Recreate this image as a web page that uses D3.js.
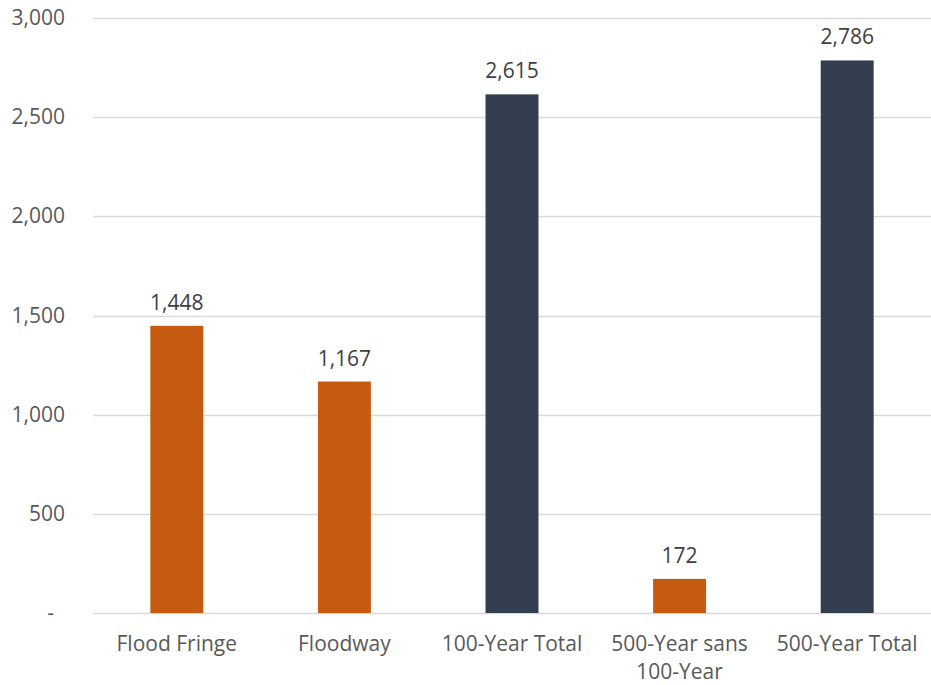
<!DOCTYPE html>
<html>
<head>
<meta charset="utf-8">
<script src="https://cdn.jsdelivr.net/npm/d3@7"></script>
<style>
  body { margin: 0; background: #fff; }
  text { font-family: "Open Sans", sans-serif; }
</style>
</head>
<body>
<div id="chart"></div>
<script>
const categories = ["Flood Fringe", "Floodway", "100-Year Total", "500-Year sans 100-Year", "500-Year Total"];
const values = [1448, 1167, 2615, 172, 2786];
const barColors = ["#C55A11", "#C55A11", "#333F50", "#C55A11", "#333F50"];
const yTicks = [0, 500, 1000, 1500, 2000, 2500, 3000];

const width = 931, height = 685;
const margin = {top: 18, right: 0, bottom: 72, left: 93};

const svg = d3.select("#chart").append("svg")
    .attr("width", width)
    .attr("height", height);

const x = d3.scaleBand()
    .domain(categories)
    .range([margin.left, width - margin.right])
    .paddingInner(0.684)
    .paddingOuter(0.342);

const y = d3.scaleLinear()
    .domain([0, 3000])
    .range([height - margin.bottom, margin.top]);

// gridlines
svg.append("g")
    .selectAll("line")
    .data(yTicks)
    .enter()
    .append("line")
    .attr("x1", margin.left)
    .attr("x2", width - margin.right)
    .attr("y1", d => Math.round(y(d)) + 0.5)
    .attr("y2", d => Math.round(y(d)) + 0.5)
    .attr("stroke", "#d9d9d9")
    .attr("stroke-width", 1.3);

// y labels
svg.append("g")
    .selectAll("text")
    .data(yTicks)
    .enter()
    .append("text")
    .attr("x", d => d === 0 ? 54 : 65)
    .attr("y", d => y(d) + 7)
    .attr("text-anchor", "end")
    .attr("fill", "#595959")
    .style("font-size", "21px")
    .text(d => d === 0 ? "-" : d3.format(",")(d));

// bars
svg.append("g")
    .selectAll("rect")
    .data(values)
    .enter()
    .append("rect")
    .attr("x", (d, i) => x(categories[i]))
    .attr("y", d => y(d))
    .attr("width", x.bandwidth())
    .attr("height", d => y(0) - y(d))
    .attr("fill", (d, i) => barColors[i]);

// value labels
svg.append("g")
    .selectAll("text")
    .data(values)
    .enter()
    .append("text")
    .attr("x", (d, i) => x(categories[i]) + x.bandwidth() / 2)
    .attr("y", d => y(d) - 16)
    .attr("text-anchor", "middle")
    .attr("fill", "#404040")
    .style("font-size", "21px")
    .text(d => d3.format(",")(d));

// category labels (wrap the long one)
const catLines = {"500-Year sans 100-Year": ["500-Year sans", "100-Year"]};
const cat = svg.append("g")
    .selectAll("text")
    .data(categories)
    .enter()
    .append("text")
    .attr("text-anchor", "middle")
    .attr("fill", "#595959")
    .style("font-size", "21px");

cat.each(function(d) {
    const lines = catLines[d] || [d];
    const t = d3.select(this);
    lines.forEach((l, k) => {
        t.append("tspan")
            .attr("x", x(d) + x.bandwidth() / 2)
            .attr("y", y(0) + 38 + k * 28)
            .text(l);
    });
});
</script>
</body>
</html>
